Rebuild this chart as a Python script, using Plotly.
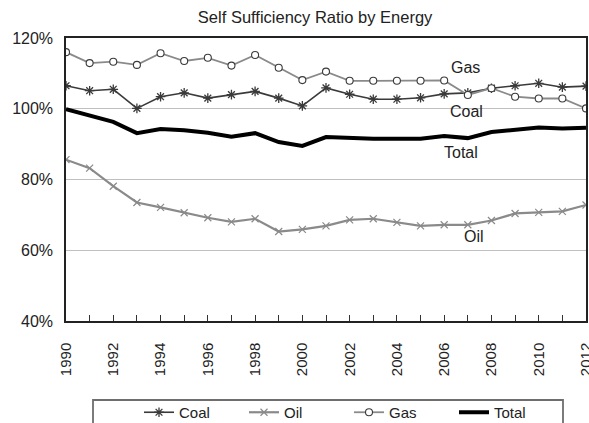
import plotly.graph_objects as go

years = list(range(1990, 2013))
coal = [106.5, 105.1, 105.5, 100.1, 103.4, 104.5, 103.0, 104.0, 104.9, 103.0, 100.8,
        105.9, 104.1, 102.7, 102.7, 103.1, 104.2, 104.5, 105.8, 106.5, 107.2, 106.1, 106.4]
oil = [85.6, 83.2, 78.1, 73.5, 72.1, 70.6, 69.2, 68.0, 68.9, 65.3, 65.9,
       66.9, 68.6, 68.9, 67.9, 66.9, 67.2, 67.2, 68.4, 70.4, 70.7, 71.0, 72.8]
gas = [116.0, 112.9, 113.3, 112.4, 115.7, 113.5, 114.4, 112.2, 115.2, 111.6, 108.1,
       110.5, 107.9, 107.9, 107.9, 107.9, 108.0, 103.9, 105.8, 103.4, 102.9, 102.9, 100.1]
total = [99.9, 98.1, 96.3, 93.1, 94.3, 93.9, 93.2, 92.1, 93.1, 90.6, 89.5,
         92.0, 91.7, 91.5, 91.5, 91.5, 92.3, 91.7, 93.4, 94.0, 94.7, 94.4, 94.6]
series_labels = ["Gas", "Coal", "Total", "Oil"]

FONT = "Liberation Sans, Arial, sans-serif"

fig = go.Figure()
fig.add_trace(go.Scatter(x=years, y=coal, name="Coal", mode="lines+markers",
                         line=dict(color="#3a3a3a", width=1.6),
                         marker=dict(symbol="asterisk-open", size=8,
                                     line=dict(color="#1a1a1a", width=1.3))))
fig.add_trace(go.Scatter(x=years, y=oil, name="Oil", mode="lines+markers",
                         line=dict(color="#8a8a8a", width=2.2),
                         marker=dict(symbol="x-thin-open", size=7,
                                     line=dict(color="#3a3a3a", width=1.2))))
fig.add_trace(go.Scatter(x=years, y=gas, name="Gas", mode="lines+markers",
                         line=dict(color="#8a8a8a", width=1.8),
                         marker=dict(symbol="circle", size=7, color="white",
                                     line=dict(color="#3a3a3a", width=1.1))))
fig.add_trace(go.Scatter(x=years, y=total, name="Total", mode="lines",
                         line=dict(color="black", width=4)))

label_pos = [(2006.9, 111.6), (2006.95, 99.1), (2006.7, 87.7), (2007.25, 63.8)]
for t, (x, y) in zip(series_labels, label_pos):
    fig.add_annotation(x=x, y=y, text=t, showarrow=False,
                       font=dict(family=FONT, size=16, color="#222"))

# legend frame (extends past the bottom edge, as in the reference)
fig.add_shape(type="rect", xref="paper", yref="paper",
              x0=(93 - 66) / 520, x1=(563 - 66) / 520,
              y0=(321 - 440) / 283, y1=(321 - 400) / 283,
              line=dict(color="#6e6e6e", width=1.8), fillcolor="rgba(0,0,0,0)",
              layer="below")

fig.update_layout(
    width=589, height=423,
    margin=dict(l=66, r=3, t=38, b=102, autoexpand=False),
    paper_bgcolor="white", plot_bgcolor="white",
    font=dict(family=FONT, color="#222"),
    title=dict(text="Self Sufficiency Ratio by Energy", x=0.535, xanchor="center",
               y=1 - 17 / 423, yanchor="middle", font=dict(size=16.5, family=FONT, color="#222")),
    showlegend=True,
    legend=dict(orientation="h", x=(139 - 66) / 520, xanchor="left", y=(321 - 396) / 283, yanchor="top",
                borderwidth=0, bgcolor="rgba(0,0,0,0)",
                font=dict(size=15, family=FONT, color="#222"),
                traceorder="normal", itemwidth=30,
                entrywidth=60, entrywidthmode="pixels"),
)
fig.update_xaxes(range=[1990, 2012], tickvals=list(range(1990, 2013, 2)), tickangle=-90,
                 ticks="inside", ticklen=6, tickcolor="#333",
                 minor=dict(dtick=1, ticks="inside", ticklen=6, tickcolor="#333"),
                 showline=True, linecolor="#222", linewidth=1.5, mirror=True,
                 showgrid=False, zeroline=False, ticklabeloverflow="allow",
                 ticklabelstandoff=14,
                 tickfont=dict(size=15, family=FONT, color="#222"))
fig.update_yaxes(range=[40, 120], dtick=20, ticksuffix="%",
                 showline=True, linecolor="#222", linewidth=1.5, mirror=True,
                 showgrid=True, gridcolor="#bfbfbf", gridwidth=1, zeroline=False,
                 ticks="", ticklabelstandoff=8,
                 tickfont=dict(size=16, family=FONT, color="#222"))

fig.write_html("out.html", config={"displayModeBar": False},
               post_script="document.body.style.margin='0';document.body.style.overflow='hidden';")
